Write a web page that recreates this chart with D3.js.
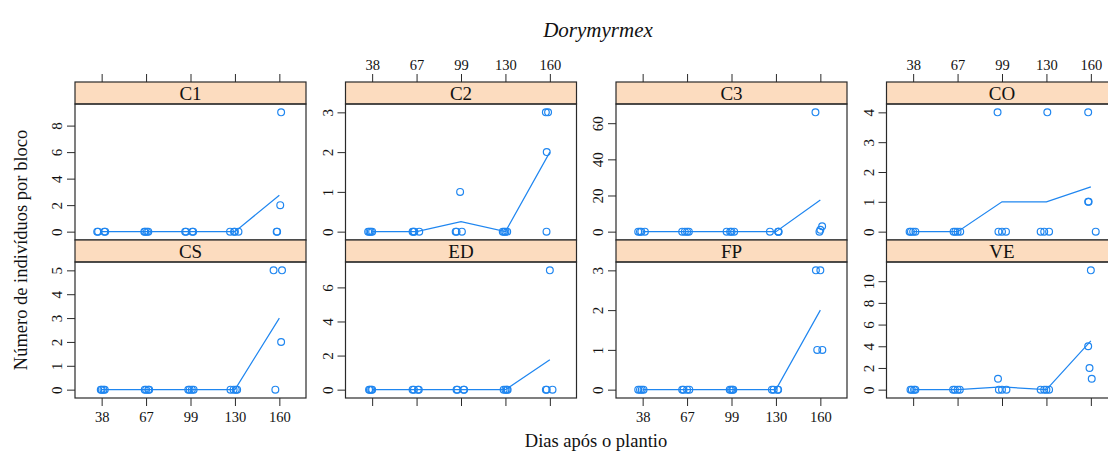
<!DOCTYPE html>
<html>
<head>
<meta charset="utf-8">
<script src="https://cdn.jsdelivr.net/npm/d3@7"></script>
<style>
  html, body { margin: 0; padding: 0; background: #fff; }
  svg { display: block; }
  text { font-family: "Liberation Serif", "Times New Roman", serif; fill: #111; }
</style>
</head>
<body>
<svg id="chart" width="1108" height="451"></svg>
<script>
// Sampling days after planting (x axis categories)
const days = ["38", "67", "99", "130", "160"];
const plots = ["C1", "C2", "C3", "CO", "CS", "ED", "FP", "VE"];

// Counts per block (4 blocks) for each sampling day, one array per plot
const countsC1 = [[0,0,0,0],[0,0,0,0],[0,0,0,0],[0,0,0,0],[9,2,0,0]];
const countsC2 = [[0,0,0,0],[0,0,0,0],[1,0,0,0],[0,0,0,0],[3,3,2,0]];
const countsC3 = [[0,0,0,0],[0,0,0,0],[0,0,0,0],[0,0,0,0],[66,3,1,0]];
const countsCO = [[0,0,0,0],[0,0,0,0],[4,0,0,0],[4,0,0,0],[4,1,1,0]];
const countsCS = [[0,0,0,0],[0,0,0,0],[0,0,0,0],[0,0,0,0],[5,5,2,0]];
const countsED = [[0,0,0,0],[0,0,0,0],[0,0,0,0],[0,0,0,0],[7,0,0,0]];
const countsFP = [[0,0,0,0],[0,0,0,0],[0,0,0,0],[0,0,0,0],[3,3,1,1]];
const countsVE = [[0,0,0,0],[0,0,0,0],[1,0,0,0],[0,0,0,0],[11,4,2,1]];

// Horizontal jitter of each point (in category units)
const jitterC1 = [[-0.10,-0.08,0.06,0.08],[-0.04,-0.02,0.02,0.05],[-0.12,-0.10,0.04,0.06],[-0.11,-0.02,0.00,0.08],[0.04,0.02,-0.05,-0.06]];
const jitterC2 = [[-0.09,-0.06,-0.03,0.00],[-0.09,-0.07,-0.05,0.06],[-0.02,-0.12,-0.10,0.02],[-0.06,-0.03,0.00,0.04],[-0.09,-0.04,-0.07,-0.075]];
const jitterC3 = [[-0.10,-0.06,-0.03,0.05],[-0.11,-0.05,0.00,0.04],[-0.11,-0.03,0.00,0.06],[-0.135,0.05,0.055,0.06],[-0.11,0.04,0.00,-0.02]];
const jitterCO = [[-0.08,-0.05,0.00,0.05],[-0.09,-0.05,0.00,0.06],[-0.10,-0.08,0.00,0.09],[0.02,-0.13,-0.05,0.06],[-0.06,-0.06,-0.05,0.11]];
const jitterCS = [[-0.02,0.00,0.04,0.07],[-0.03,0.00,0.05,0.07],[-0.05,-0.02,0.03,0.07],[-0.10,-0.03,0.02,0.05],[-0.13,0.06,0.04,-0.09]];
const jitterED = [[-0.07,-0.05,-0.02,0.00],[-0.09,-0.06,0.03,0.05],[-0.10,-0.08,0.06,0.07],[-0.04,0.00,0.03,0.05],[0.00,-0.09,-0.07,0.06]];
const jitterFP = [[-0.10,-0.06,-0.02,0.02],[-0.11,-0.08,0.00,0.05],[-0.04,-0.01,0.02,0.04],[-0.09,-0.05,0.04,0.05],[-0.10,0.00,-0.07,0.045]];
const jitterVE = [[-0.06,-0.03,0.02,0.05],[-0.10,-0.06,0.00,0.05],[-0.09,-0.07,0.00,0.10],[-0.13,-0.05,0.00,0.06],[0.00,-0.06,-0.03,0.02]];

// Y tick labels per plot
const yTicksC1 = [0, 2, 4, 6, 8];
const yTicksC2 = [0, 1, 2, 3];
const yTicksC3 = [0, 20, 40, 60];
const yTicksCO = [0, 1, 2, 3, 4];
const yTicksCS = [0, 1, 2, 3, 4, 5];
const yTicksED = [0, 2, 4, 6];
const yTicksFP = [0, 1, 2, 3];
const yTicksVE = [0, 2, 4, 6, 8, 10];

const titleText = "Dorymyrmex";
const xLabelText = "Dias após o plantio";
const yLabelText = "Número de indivíduos por bloco";

const panelData = [
  { name: "C1", counts: countsC1, jitter: jitterC1, ticks: yTicksC1 },
  { name: "C2", counts: countsC2, jitter: jitterC2, ticks: yTicksC2 },
  { name: "C3", counts: countsC3, jitter: jitterC3, ticks: yTicksC3 },
  { name: "CO", counts: countsCO, jitter: jitterCO, ticks: yTicksCO },
  { name: "CS", counts: countsCS, jitter: jitterCS, ticks: yTicksCS },
  { name: "ED", counts: countsED, jitter: jitterED, ticks: yTicksED },
  { name: "FP", counts: countsFP, jitter: jitterFP, ticks: yTicksFP },
  { name: "VE", counts: countsVE, jitter: jitterVE, ticks: yTicksVE }
];

// Layout
const colStart = 75, colStep = 270.5, panelW = 231;
const stripH = 22, panelH = 136;
const rowTop = [82, 240];
const blue = "#1f86f0";
const stripFill = "#fcdcbf";
const frame = "#2a2a2a";
const serif = "Liberation Serif, Times New Roman, serif";

const svg = d3.select("#chart");

// Title
svg.append("text")
  .attr("x", 598).attr("y", 37)
  .attr("text-anchor", "middle")
  .style("font-size", "21px").style("font-style", "italic")
  .text(titleText);

// Axis titles
svg.append("text")
  .attr("x", 596).attr("y", 447)
  .attr("text-anchor", "middle")
  .style("font-size", "18.5px")
  .text(xLabelText);

svg.append("text")
  .attr("transform", "translate(27,250) rotate(-90)")
  .attr("text-anchor", "middle")
  .style("font-size", "18.5px")
  .text(yLabelText);

panelData.forEach((p, i) => {
  const col = i % 4, row = Math.floor(i / 4);
  const left = colStart + col * colStep;
  const stripTop = rowTop[row];
  const top = stripTop + stripH;
  const bottom = top + panelH;

  const x = d3.scaleLinear().domain([0.4, days.length + 0.6]).range([left, left + panelW]);
  const yMax = d3.max(p.counts.flat());
  const y = d3.scaleLinear().domain([-0.07 * yMax, yMax * 1.07]).range([bottom, top]);

  const g = svg.append("g");

  // Strip
  g.append("rect")
    .attr("x", left).attr("y", stripTop)
    .attr("width", panelW).attr("height", stripH)
    .attr("fill", stripFill).attr("stroke", frame).attr("stroke-width", 1.2);
  g.append("text")
    .attr("x", left + panelW / 2).attr("y", stripTop + stripH / 2 + 6.5)
    .attr("text-anchor", "middle")
    .style("font-size", "19px")
    .text(p.name);

  // Panel frame
  g.append("rect")
    .attr("x", left).attr("y", top)
    .attr("width", panelW).attr("height", panelH)
    .attr("fill", "none").attr("stroke", frame).attr("stroke-width", 1.2);

  // Left axis (rotated labels)
  const yAxis = d3.axisLeft(y).tickValues(p.ticks).tickSize(8).tickFormat(d3.format("d"));
  const ya = g.append("g").attr("transform", `translate(${left},0)`).call(yAxis);
  ya.select(".domain").remove();
  ya.selectAll("line").attr("stroke", frame);
  ya.selectAll("text")
    .attr("x", null).attr("dy", null)
    .attr("text-anchor", "middle")
    .attr("transform", "translate(-13,0) rotate(-90)")
    .style("font-size", "15px")
    .style("font-family", serif)
    .attr("fill", "#222");

  const catTicks = days.map((d, k) => k + 1);

  // Top axis on the first row, bottom axis on the second row; labels alternate by column
  if (row === 0) {
    const xa = d3.axisTop(x).tickValues(catTicks).tickSize(8).tickPadding(4)
      .tickFormat(col % 2 === 1 ? (d => days[d - 1]) : () => "");
    const ga = g.append("g").attr("transform", `translate(0,${stripTop})`).call(xa);
    ga.select(".domain").remove();
    ga.selectAll("line").attr("stroke", frame);
    ga.selectAll("text").style("font-size", "14.5px").style("font-family", serif).attr("fill", "#222");
  } else {
    const xa = d3.axisBottom(x).tickValues(catTicks).tickSize(8).tickPadding(6)
      .tickFormat(col % 2 === 0 ? (d => days[d - 1]) : () => "");
    const ga = g.append("g").attr("transform", `translate(0,${bottom})`).call(xa);
    ga.select(".domain").remove();
    ga.selectAll("line").attr("stroke", frame);
    ga.selectAll("text").style("font-size", "14.5px").style("font-family", serif).attr("fill", "#222");
  }

  // Average line across blocks
  const means = p.counts.map((vals, k) => ({ x: k + 1, y: d3.mean(vals) }));
  g.append("path")
    .datum(means)
    .attr("fill", "none").attr("stroke", blue).attr("stroke-width", 1.2)
    .attr("d", d3.line().x(d => x(d.x)).y(d => y(d.y)));

  // Individual block points
  const pts = [];
  p.counts.forEach((vals, k) => vals.forEach((v, b) => pts.push({ x: k + 1 + p.jitter[k][b], y: v })));
  g.selectAll("circle.pt").data(pts).enter().append("circle")
    .attr("class", "pt")
    .attr("cx", d => x(d.x)).attr("cy", d => y(d.y))
    .attr("r", 3.4)
    .attr("fill", "none").attr("stroke", blue).attr("stroke-width", 1.2);
});
</script>
</body>
</html>
